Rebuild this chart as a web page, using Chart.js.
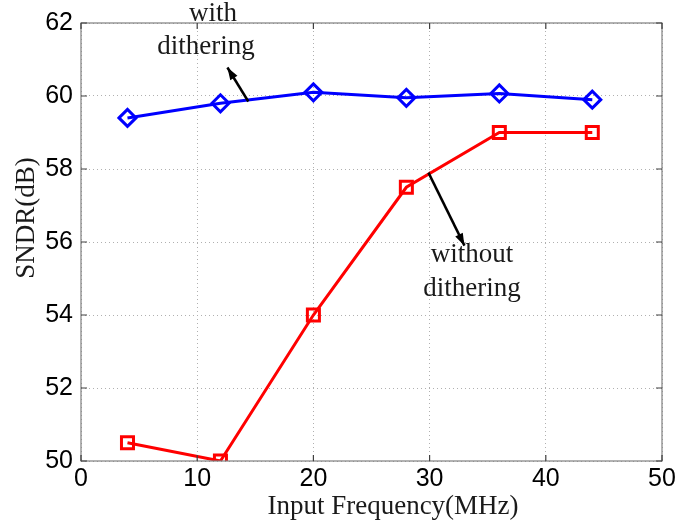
<!DOCTYPE html>
<html>
<head>
<meta charset="utf-8">
<script src="https://cdn.jsdelivr.net/npm/chart.js@4/dist/chart.umd.min.js"></script>
<style>
  html, body { margin: 0; padding: 0; background: #fff; }
  #wrap { width: 679px; height: 525px; }
</style>
</head>
<body>
<div id="wrap"><canvas id="c" width="679" height="525"></canvas></div>
<script>
// data
const freqs = [4, 12, 20, 28, 36, 44];
const withDither = [59.4, 59.8, 60.1, 59.95, 60.07, 59.9];
const withoutDither = [50.5, 50.0, 54.0, 57.5, 59.0, 59.0];
const xTicks = [0, 10, 20, 30, 40, 50];
const yTicks = [50, 52, 54, 56, 58, 60, 62];

const serif = '"Liberation Serif", "Times New Roman", serif';
const sans = '"Liberation Sans", Arial, sans-serif';

// box, inner tick marks, axis titles and the two arrow notes
const decor = {
  id: 'decor',
  afterDraw(chart) {
    const { ctx, chartArea: a, scales: { x, y } } = chart;
    ctx.save();
    ctx.strokeStyle = '#7f7f7f';
    ctx.lineWidth = 1.2;
    ctx.strokeRect(a.left, a.top, a.right - a.left, a.bottom - a.top);
    ctx.strokeStyle = '#404040';
    ctx.beginPath();
    xTicks.forEach(v => {
      const px = x.getPixelForValue(v);
      ctx.moveTo(px, a.bottom); ctx.lineTo(px, a.bottom - 6);
      ctx.moveTo(px, a.top); ctx.lineTo(px, a.top + 6);
    });
    yTicks.forEach(v => {
      const py = y.getPixelForValue(v);
      ctx.moveTo(a.left, py); ctx.lineTo(a.left + 6, py);
      ctx.moveTo(a.right, py); ctx.lineTo(a.right - 6, py);
    });
    ctx.stroke();

    const arrow = (x0, y0, x1, y1) => {
      ctx.strokeStyle = '#000';
      ctx.fillStyle = '#000';
      ctx.lineWidth = 2.5;
      ctx.beginPath(); ctx.moveTo(x0, y0); ctx.lineTo(x1, y1); ctx.stroke();
      const ang = Math.atan2(y1 - y0, x1 - x0);
      ctx.beginPath();
      ctx.moveTo(x1, y1);
      ctx.lineTo(x1 - 13 * Math.cos(ang - 0.33), y1 - 13 * Math.sin(ang - 0.33));
      ctx.lineTo(x1 - 13 * Math.cos(ang + 0.33), y1 - 13 * Math.sin(ang + 0.33));
      ctx.closePath(); ctx.fill();
    };
    arrow(x.getPixelForValue(14.4), y.getPixelForValue(59.85), x.getPixelForValue(12.6), y.getPixelForValue(60.78));
    arrow(x.getPixelForValue(29.9), y.getPixelForValue(57.9), x.getPixelForValue(33.0), y.getPixelForValue(55.9));

    ctx.fillStyle = '#1a1a1a';
    ctx.font = '27px ' + serif;
    ctx.textAlign = 'center';
    ctx.textBaseline = 'middle';
    ctx.fillText('with', 213, 14);
    ctx.fillText('dithering', 206, 47);
    ctx.fillText('without', 472, 255);
    ctx.fillText('dithering', 472, 289);

    ctx.fillText('Input Frequency(MHz)', 393, 507);
    ctx.translate(27, 218);
    ctx.rotate(-Math.PI / 2);
    ctx.fillText('SNDR(dB)', 0, 0);
    ctx.restore();
  }
};

new Chart(document.getElementById('c'), {
  type: 'line',
  data: {
    datasets: [
      {
        label: 'with dithering',
        data: freqs.map((f, i) => ({ x: f, y: withDither[i] })),
        borderColor: '#0000ff',
        backgroundColor: 'rgba(0,0,0,0)',
        borderWidth: 3,
        pointStyle: 'rectRot',
        pointRadius: 8.5,
        pointBorderWidth: 3,
        pointBorderColor: '#0000ff',
        pointBackgroundColor: 'rgba(255,255,255,0)',
        tension: 0
      },
      {
        label: 'without dithering',
        data: freqs.map((f, i) => ({ x: f, y: withoutDither[i] })),
        borderColor: '#ff0000',
        backgroundColor: 'rgba(0,0,0,0)',
        borderWidth: 3,
        pointStyle: 'rect',
        pointRadius: 8.5,
        pointBorderWidth: 3,
        pointBorderColor: '#ff0000',
        pointBackgroundColor: 'rgba(255,255,255,0)',
        tension: 0
      }
    ]
  },
  options: {
    responsive: false,
    animation: false,
    layout: { padding: { left: 0, top: 17, right: 17, bottom: 0 } },
    plugins: { legend: { display: false }, tooltip: { enabled: false } },
    scales: {
      x: {
        type: 'linear',
        min: 0, max: 50,
        afterBuildTicks: s => { s.ticks = xTicks.map(v => ({ value: v })); },
        afterFit: s => { s.height = 64; },
        ticks: { color: '#000', font: { family: sans, size: 25 }, padding: 3, maxRotation: 0 },
        grid: { color: '#b0b0b0', lineWidth: 1, drawTicks: false },
        border: { display: false, dash: [1, 3] }
      },
      y: {
        type: 'linear',
        min: 50, max: 62,
        afterBuildTicks: s => { s.ticks = yTicks.map(v => ({ value: v })); },
        afterFit: s => { s.width = 81; },
        ticks: { color: '#000', font: { family: sans, size: 25 }, padding: 8 },
        grid: { color: '#b0b0b0', lineWidth: 1, drawTicks: false },
        border: { display: false, dash: [1, 3] }
      }
    }
  },
  plugins: [decor]
});
</script>
</body>
</html>
